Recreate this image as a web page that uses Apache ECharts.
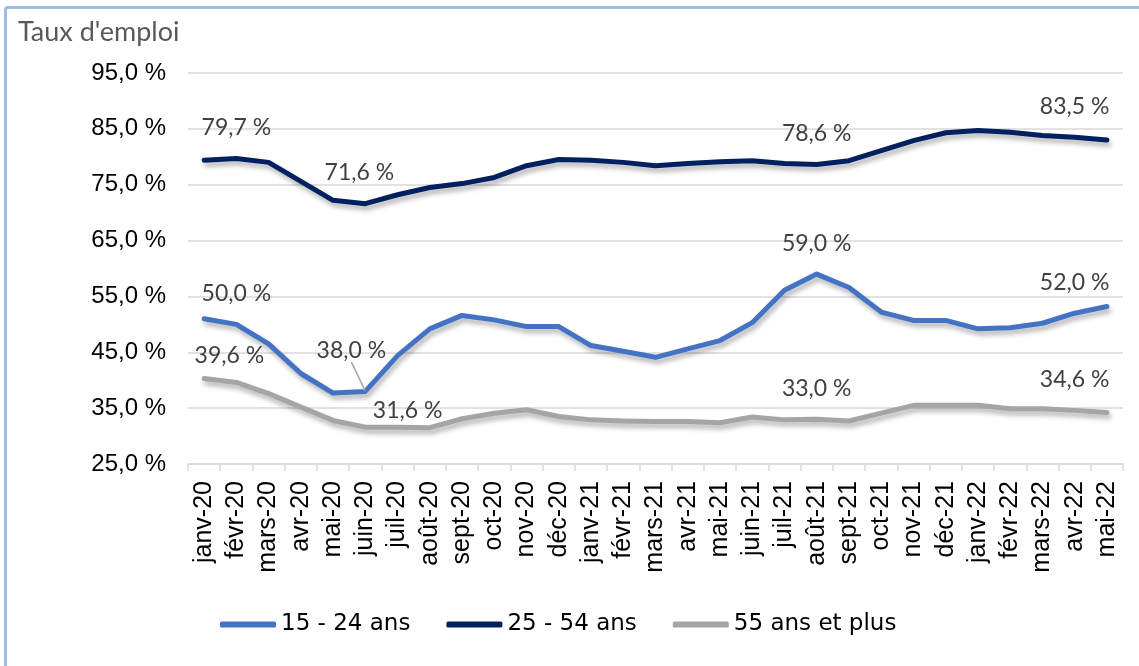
<!DOCTYPE html>
<html>
<head>
<meta charset="utf-8">
<script src="https://cdn.jsdelivr.net/npm/echarts@6/dist/echarts.min.js"></script>
<style>
html, body { margin: 0; padding: 0; background: #fff; overflow: hidden; }
#main { width: 1139px; height: 666px; }
#frame { position: absolute; left: 4px; top: 6px; width: 1200px; height: 800px;
  border-left: 3px solid #9dbbe8; border-top: 3px solid #9dbbe8; border-top-left-radius: 4px; pointer-events: none; }
</style>
</head>
<body>
<div id="main"></div>
<div id="frame"></div>
<script>
var mois = ['janv-20','févr-20','mars-20','avr-20','mai-20','juin-20','juil-20','août-20','sept-20','oct-20','nov-20','déc-20',
            'janv-21','févr-21','mars-21','avr-21','mai-21','juin-21','juil-21','août-21','sept-21','oct-21','nov-21','déc-21',
            'janv-22','févr-22','mars-22','avr-22','mai-22'];
var ans15_24 = [51.0,50.0,46.5,41.2,37.7,38.0,44.4,49.2,51.6,50.8,49.6,49.6,
                46.2,45.2,44.1,45.6,47.1,50.3,56.1,59.0,56.6,52.2,50.7,50.7,
                49.2,49.4,50.2,52.0,53.2];
var ans25_54 = [79.4,79.7,79.0,75.6,72.2,71.6,73.2,74.5,75.2,76.3,78.4,79.5,
                79.4,79.0,78.4,78.8,79.1,79.3,78.8,78.6,79.3,81.1,82.9,84.3,
                84.7,84.4,83.8,83.5,83.0];
var ans55plus = [40.3,39.6,37.6,35.2,32.8,31.6,31.6,31.5,33.1,34.1,34.7,33.5,
                 32.9,32.7,32.6,32.6,32.4,33.4,32.9,33.0,32.7,34.1,35.5,35.5,
                 35.5,34.9,34.9,34.6,34.2];
var yTicks = [25, 35, 45, 55, 65, 75, 85, 95];

// étiquettes : index du point et décalage [dx, dy]
var etiq15_24 = [[1, 0, 0], [5, -14, -10], [19, 0, 0], [27, 0, 0]];
var etiq25_54 = [[1, 0, 0], [5, -6, 0], [19, 0, 0], [27, 0, 0]];
var etiq55plus = [[1, -7, 4], [6, 10, 14], [19, 0, 0], [27, 0, 0]];

function fmt(v) { return v.toFixed(1).replace('.', ',') + ' %'; }

function buildData(values, etiq, leader) {
    return values.map(function (v, i) {
        var item = { value: v };
        etiq.forEach(function (e) {
            if (e[0] === i) {
                item.label = { show: true };
                if (leader && (e[1] !== 0 || e[2] !== 0)) {
                    item.labelLine = { show: true };
                }
            }
        });
        return item;
    });
}

function layoutFor(etiq) {
    return function (params) {
        for (var k = 0; k < etiq.length; k++) {
            var e = etiq[k];
            if (e[0] === params.dataIndex) {
                return { dx: e[1], dy: e[2] };
            }
        }
        return {};
    };
}

var dom = document.getElementById('main');
var myChart = echarts.init(dom);

var labelStyle = {
    show: false,
    position: 'top',
    distance: 19,
    formatter: function (p) { return fmt(p.value); },
    fontFamily: 'Lato',
    fontSize: 23,
    color: '#404040'
};

function lineSerie(name, values, color, etiq, leader) {
    return {
        name: name,
        type: 'line',
        data: buildData(values, etiq, leader),
        symbol: 'circle',
        symbolSize: 1,
        showSymbol: true,
        smooth: false,
        lineStyle: {
            width: 5,
            color: color,
            cap: 'round',
            join: 'round',
            shadowColor: 'rgba(0,0,0,0.3)',
            shadowBlur: 5,
            shadowOffsetX: 2,
            shadowOffsetY: 4
        },
        itemStyle: { color: color },
        label: labelStyle,
        labelLayout: layoutFor(etiq),
        labelLine: { show: false, lineStyle: { color: '#a6a6a6', width: 1.5 } }
    };
}

var option = {
    animation: false,
    title: {
        text: "Taux d'emploi",
        left: 13,
        top: 14,
        textStyle: { fontFamily: 'Lato', fontSize: 27, fontWeight: 'normal', color: '#595959' }
    },
    legend: {
        data: ['15 - 24 ans', '25 - 54 ans', '55 ans et plus'],
        left: 215,
        top: 608,
        icon: 'roundRect',
        itemWidth: 56,
        itemHeight: 6,
        itemGap: 36,
        textStyle: { fontFamily: 'DejaVu Sans', fontSize: 23, color: '#000' }
    },
    grid: { left: 188, right: 16, top: 73, bottom: 202, containLabel: false },
    xAxis: {
        type: 'category',
        data: mois,
        boundaryGap: true,
        axisLine: { lineStyle: { color: '#d9d9d9', width: 1.5 } },
        axisTick: { show: true, length: 7, lineStyle: { color: '#d9d9d9', width: 1.5 } },
        axisLabel: {
            rotate: 90,
            interval: 0,
            margin: 17,
            fontFamily: 'Liberation Sans',
            fontSize: 25,
            color: '#000'
        }
    },
    yAxis: {
        type: 'value',
        min: yTicks[0],
        max: yTicks[yTicks.length - 1],
        interval: 10,
        axisLine: { show: false },
        axisTick: { show: false },
        splitLine: { lineStyle: { color: '#d9d9d9', width: 1.5 } },
        axisLabel: {
            margin: 22,
            fontFamily: 'Liberation Sans',
            fontSize: 24,
            color: '#000',
            formatter: function (v) { return fmt(v); }
        }
    },
    series: [
        lineSerie('15 - 24 ans', ans15_24, '#4472c4', etiq15_24, true),
        lineSerie('25 - 54 ans', ans25_54, '#002060', etiq25_54, false),
        lineSerie('55 ans et plus', ans55plus, '#a5a5a5', etiq55plus, false)
    ]
};

if (option && typeof option === 'object') {
    myChart.setOption(option, true);
}
</script>
</body>
</html>
